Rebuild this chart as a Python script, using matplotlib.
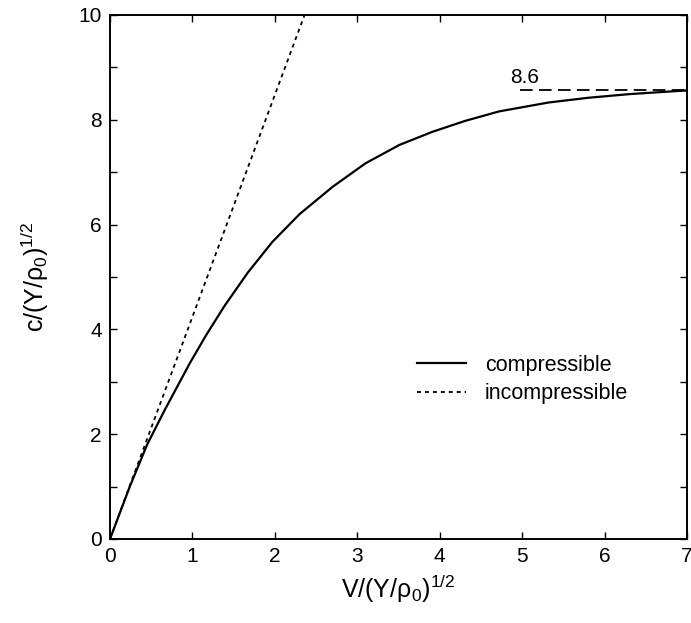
import matplotlib
matplotlib.use("Agg")
import matplotlib.pyplot as plt

##### Data #####
v_comp = [0, 0.24, 0.45, 0.67, 0.97, 1.17, 1.39, 1.67, 1.97, 2.30, 2.70,
          3.10, 3.51, 3.91, 4.31, 4.72, 5.32, 5.80, 6.30, 6.89, 7.0]
c_comp = [0, 1.00, 1.80, 2.48, 3.36, 3.90, 4.45, 5.08, 5.67, 6.20, 6.72,
          7.17, 7.52, 7.77, 7.98, 8.16, 8.33, 8.42, 8.49, 8.55, 8.56]

v_incomp = [0, 1.21, 2.36]
c_incomp = [0, 5.13, 10.0]

asym_v = [4.97, 7.0]
asym_c = [8.57, 8.57]
asym_label = "8.6"

plt.rcParams['font.family'] = ['Liberation Sans', 'DejaVu Sans']
plt.rcParams['mathtext.default'] = 'regular'

fig = plt.figure(figsize=(6.91, 6.23), dpi=100)
ax = fig.add_axes([110 / 691, 1 - 539 / 623, 577 / 691, 524 / 623])

ax.plot(v_comp, c_comp, color='black', lw=1.6, label='compressible')
ax.plot(v_incomp, c_incomp, color='black', lw=1.3, linestyle=(0, (2.2, 2.2)),
        label='incompressible')
ax.plot(asym_v, asym_c, color='black', lw=1.3, linestyle=(0, (7, 3.5)))
ax.text(asym_v[0] - 0.12, asym_c[0] + 0.14, asym_label, fontsize=15)

ax.set_xlim(0, 7)
ax.set_ylim(0, 10)
ax.set_xticks(range(0, 8))
ax.set_yticks(range(0, 11, 2))
ax.set_yticks(range(1, 10, 2), minor=True)
ax.tick_params(which='both', direction='in', top=True, right=True,
               length=5, width=1, labelsize=15, pad=6)
for s in ax.spines.values():
    s.set_linewidth(1.4)

ax.set_xlabel('V/(Y/ρ$_0$)$^{1/2}$', fontsize=18, labelpad=5)
ax.set_ylabel('c/(Y/ρ$_0$)$^{1/2}$', fontsize=18, labelpad=20)

ax.legend(loc='upper left', bbox_to_anchor=(0.532, 0.352), frameon=False,
          fontsize=15.5, handlelength=2.3, handletextpad=0.85,
          labelspacing=0.35, borderpad=0, borderaxespad=0)

fig.savefig('out.png', dpi=100)
